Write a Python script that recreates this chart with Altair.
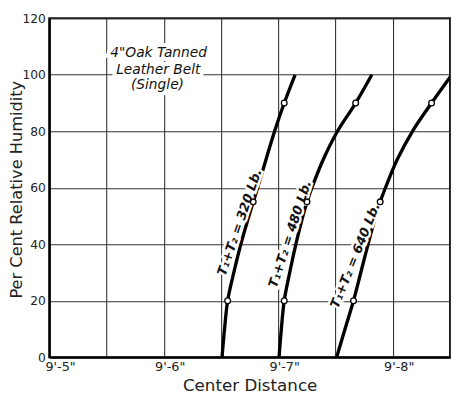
import json
import altair as alt
import pandas as pd

# ---- data ----
humidity = [0, 10, 20, 30, 40, 50, 55, 60, 70, 80, 90, 100]
dist_320 = [1.509, 1.531, 1.558, 1.612, 1.673, 1.744, 1.781, 1.820, 1.893, 1.968, 2.052, 2.147]
dist_480 = [2.007, 2.027, 2.052, 2.100, 2.154, 2.215, 2.251, 2.294, 2.393, 2.517, 2.676, 2.817]
dist_640 = [2.510, 2.583, 2.657, 2.721, 2.784, 2.851, 2.890, 2.936, 3.039, 3.172, 3.339, 3.516]
loads = ["320", "480", "640"]
marker_humidity = [20, 55, 90]

label_text = ["T\u2081+T\u2082 = 320 Lb.", "T\u2081+T\u2082 = 480 Lb.", "T\u2081+T\u2082 = 640 Lb."]
label_x = [1.664, 2.104, 2.674]
label_y = [47.8, 43.6, 36.0]
label_angle = [289, 288, 292]

note_lines = ['4"Oak Tanned', "Leather Belt", "(Single)"]
note_x = [0.955, 0.952, 0.945]
note_y = [107.6, 101.7, 96.3]

x_tick_values = [0, 0.5, 1, 1.5, 2, 2.5, 3, 3.5]
x_tick_labels = ["9'-5\"", "", "9'-6\"", "", "9'-7\"", "", "9'-8\"", ""]
y_tick_values = [0, 10, 20, 30, 40, 50, 60, 70, 80, 90, 100, 110, 120]

# ---- tables ----
rows = []
for load, dists in zip(loads, [dist_320, dist_480, dist_640]):
    for h, d in zip(humidity, dists):
        rows.append({"load": load, "rh": h, "dist": d})
curves = pd.DataFrame(rows)
markers = curves[curves["rh"].isin(marker_humidity)]
labels = pd.DataFrame({"text": label_text, "dist": label_x, "rh": label_y, "angle": label_angle})
notes = pd.DataFrame({"text": note_lines, "dist": note_x, "rh": note_y})

FONT = "DejaVu Sans"
x_expr = f"{json.dumps(x_tick_labels)}[round(datum.value * 2)]"

x_enc = alt.X(
    "dist:Q",
    scale=alt.Scale(domain=[0, 3.5], nice=False, zero=False),
    axis=alt.Axis(
        values=x_tick_values, labelExpr=x_expr, title="Center Distance",
        grid=True, ticks=False, labelPadding=4, labelFlush=False,
        labelOffset={"condition": {"test": "datum.value == 0", "value": 11}, "value": 6},
        labelFont=FONT, labelFontSize=13, labelColor="#222",
        titleFont=FONT, titleFontSize=17, titleFontWeight="normal", titleColor="#222",
        titleY=34, titleBaseline="alphabetic",
    ),
)
y_enc = alt.Y(
    "rh:Q",
    scale=alt.Scale(domain=[0, 120], nice=False),
    axis=alt.Axis(
        values=y_tick_values, labelExpr="datum.value % 20 == 0 ? datum.label : ''",
        title="Per Cent Relative Humidity", grid=True, ticks=False, labelPadding=4,
        labelFont=FONT, labelFontSize=12.5, labelColor="#222",
        titleFont=FONT, titleFontSize=16.5, titleFontWeight="normal", titleColor="#222",
        titleX=-33, titleY=174, titleBaseline="middle", titleAlign="center", titleAngle=270,
    ),
)

base = alt.Chart(curves)

lines = base.mark_line(color="black", strokeWidth=3.4, interpolate="catmull-rom", clip=True).encode(
    x=x_enc, y=y_enc, detail="load:N", order="rh:Q"
)
points = alt.Chart(markers).mark_circle(
    color="white", stroke="black", strokeWidth=1.3, opacity=1, size=34
).encode(x="dist:Q", y="rh:Q")

label_halo = alt.Chart(labels).mark_text(
    font=FONT, fontSize=13, fontStyle="italic", fontWeight="bold",
    color="white", stroke="white", strokeWidth=5, align="center", baseline="middle",
).encode(x="dist:Q", y="rh:Q", text="text:N", angle=alt.Angle("angle:Q", scale=None))
label_txt = alt.Chart(labels).mark_text(
    font=FONT, fontSize=13, fontStyle="italic", fontWeight="bold",
    color="#111", align="center", baseline="middle",
).encode(x="dist:Q", y="rh:Q", text="text:N", angle=alt.Angle("angle:Q", scale=None))

note_halo = alt.Chart(notes).mark_text(
    font=FONT, fontSize=14, fontStyle="italic", color="white", stroke="white",
    strokeWidth=8, align="center", baseline="middle",
).encode(x="dist:Q", y="rh:Q", text="text:N")
note_txt = alt.Chart(notes).mark_text(
    font=FONT, fontSize=14, fontStyle="italic", color="#111", align="center", baseline="middle",
).encode(x="dist:Q", y="rh:Q", text="text:N")

chart = (
    alt.layer(lines, label_halo, note_halo, points, label_txt, note_txt)
    .properties(
        width=408, height=345,
        autosize=alt.AutoSizeParams(type="none"),
        padding={"left": 42, "top": 7, "right": 1, "bottom": 35},
        background="white",
    )
    .configure_axis(
        domainColor="black", domainWidth=2.2, gridColor="#333", gridWidth=1.1, gridOpacity=1,
    )
    .configure_view(stroke="#111", strokeWidth=2)
)

chart.save("out.html", embed_options={"renderer": "svg", "actions": False})
